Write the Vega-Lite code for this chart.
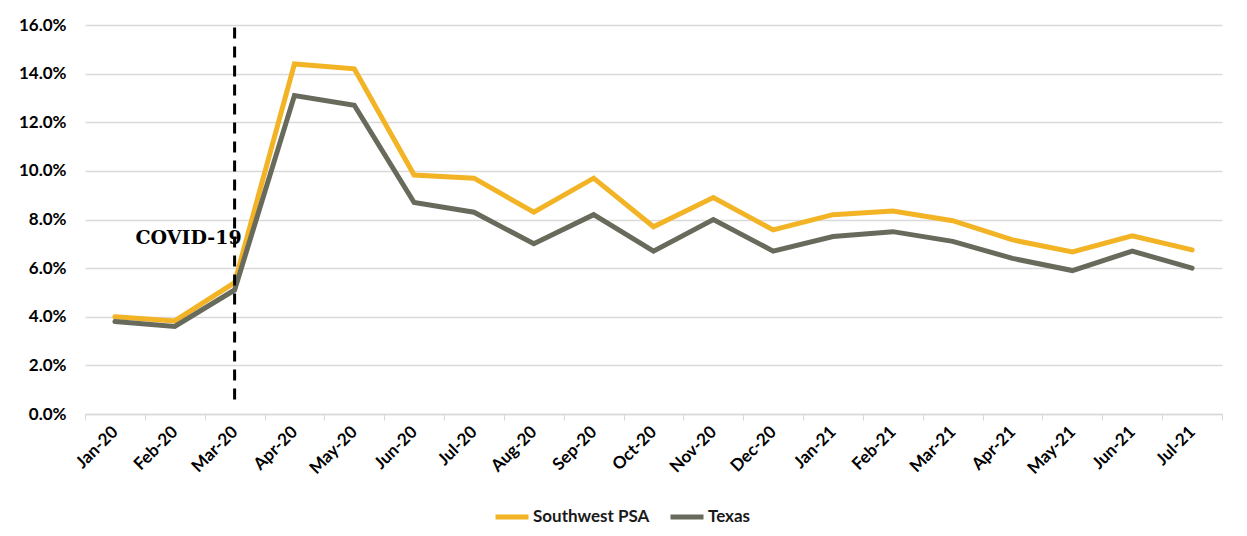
{
  "$schema": "https://vega.github.io/schema/vega-lite/v6.json",
  "width": 1137,
  "height": 389,
  "autosize": "none",
  "padding": {"left": 85, "top": 25, "right": 25, "bottom": 122},
  "background": "white",
  "config": {
    "view": {"stroke": null},
    "font": "Lato"
  },
  "datasets": {
    "series": [
      {"month": "Jan-20", "region": "Southwest PSA", "rate": 0.040},
      {"month": "Feb-20", "region": "Southwest PSA", "rate": 0.0383},
      {"month": "Mar-20", "region": "Southwest PSA", "rate": 0.054},
      {"month": "Apr-20", "region": "Southwest PSA", "rate": 0.144},
      {"month": "May-20", "region": "Southwest PSA", "rate": 0.142},
      {"month": "Jun-20", "region": "Southwest PSA", "rate": 0.0983},
      {"month": "Jul-20", "region": "Southwest PSA", "rate": 0.097},
      {"month": "Aug-20", "region": "Southwest PSA", "rate": 0.083},
      {"month": "Sep-20", "region": "Southwest PSA", "rate": 0.097},
      {"month": "Oct-20", "region": "Southwest PSA", "rate": 0.077},
      {"month": "Nov-20", "region": "Southwest PSA", "rate": 0.089},
      {"month": "Dec-20", "region": "Southwest PSA", "rate": 0.0757},
      {"month": "Jan-21", "region": "Southwest PSA", "rate": 0.082},
      {"month": "Feb-21", "region": "Southwest PSA", "rate": 0.0835},
      {"month": "Mar-21", "region": "Southwest PSA", "rate": 0.0795},
      {"month": "Apr-21", "region": "Southwest PSA", "rate": 0.0716},
      {"month": "May-21", "region": "Southwest PSA", "rate": 0.0667},
      {"month": "Jun-21", "region": "Southwest PSA", "rate": 0.0733},
      {"month": "Jul-21", "region": "Southwest PSA", "rate": 0.0675},
      {"month": "Jan-20", "region": "Texas", "rate": 0.038},
      {"month": "Feb-20", "region": "Texas", "rate": 0.036},
      {"month": "Mar-20", "region": "Texas", "rate": 0.051},
      {"month": "Apr-20", "region": "Texas", "rate": 0.131},
      {"month": "May-20", "region": "Texas", "rate": 0.127},
      {"month": "Jun-20", "region": "Texas", "rate": 0.087},
      {"month": "Jul-20", "region": "Texas", "rate": 0.083},
      {"month": "Aug-20", "region": "Texas", "rate": 0.070},
      {"month": "Sep-20", "region": "Texas", "rate": 0.082},
      {"month": "Oct-20", "region": "Texas", "rate": 0.067},
      {"month": "Nov-20", "region": "Texas", "rate": 0.080},
      {"month": "Dec-20", "region": "Texas", "rate": 0.067},
      {"month": "Jan-21", "region": "Texas", "rate": 0.073},
      {"month": "Feb-21", "region": "Texas", "rate": 0.075},
      {"month": "Mar-21", "region": "Texas", "rate": 0.071},
      {"month": "Apr-21", "region": "Texas", "rate": 0.064},
      {"month": "May-21", "region": "Texas", "rate": 0.059},
      {"month": "Jun-21", "region": "Texas", "rate": 0.067},
      {"month": "Jul-21", "region": "Texas", "rate": 0.060}
    ],
    "covid": [
      {"month": "Mar-20", "y0": 0.006, "y1": 0.162, "ty": 0.0725, "label": "COVID-19"}
    ]
  },
  "layer": [
    {
      "data": {"name": "series"},
      "mark": {"type": "line", "strokeWidth": 5, "strokeJoin": "miter", "strokeCap": "round"},
      "encoding": {
        "x": {
          "field": "month",
          "type": "nominal",
          "sort": null,
          "scale": {"type": "band", "paddingInner": 0, "paddingOuter": 0},
          "axis": {
            "title": null,
            "labelAngle": -45,
            "labelAlign": "right",
            "labelBaseline": "middle",
            "labelFont": "Lato",
            "labelFontWeight": "bold",
            "labelFontSize": 17,
            "labelColor": "#000000",
            "labelPadding": 9,
            "tickBand": "extent",
            "tickColor": "#d9d9d9",
            "tickSize": 6,
            "domainColor": "#d9d9d9",
            "domainWidth": 1.5,
            "grid": false
          }
        },
        "y": {
          "field": "rate",
          "type": "quantitative",
          "scale": {"domain": [0, 0.16], "nice": false},
          "axis": {
            "title": null,
            "format": ".1%",
            "values": [0, 0.02, 0.04, 0.06, 0.08, 0.1, 0.12, 0.14, 0.16],
            "labelFont": "Lato",
            "labelFontWeight": "bold",
            "labelFontSize": 17,
            "labelColor": "#000000",
            "labelPadding": 19,
            "ticks": false,
            "domain": false,
            "gridColor": "#d9d9d9",
            "gridWidth": 1.5
          }
        },
        "color": {
          "field": "region",
          "type": "nominal",
          "sort": ["Southwest PSA", "Texas"],
          "scale": {"domain": ["Southwest PSA", "Texas"], "range": ["#F2B325", "#686A5C"]},
          "legend": {
            "title": null,
            "orient": "none",
            "legendX": 408,
            "legendY": 473,
            "direction": "horizontal",
            "symbolType": "stroke",
            "symbolStrokeWidth": 5,
            "symbolSize": 1089,
            "labelFont": "Lato",
            "labelFontSize": 17,
            "labelFontWeight": "bold",
            "labelColor": "#1a1a1a",
            "columnPadding": 10,
            "labelOffset": 2
          }
        }
      }
    },
    {
      "data": {"name": "covid"},
      "mark": {"type": "rule", "strokeWidth": 3, "strokeDash": [11, 8], "color": "#000000"},
      "encoding": {
        "x": {"field": "month", "type": "nominal", "sort": null},
        "y": {"field": "y0", "type": "quantitative"},
        "y2": {"field": "y1"}
      }
    },
    {
      "data": {"name": "covid"},
      "mark": {"type": "text", "font": "DejaVu Serif", "fontWeight": "bold", "fontSize": 19, "align": "right", "baseline": "middle", "dx": 7, "color": "#000000"},
      "encoding": {
        "x": {"field": "month", "type": "nominal", "sort": null},
        "y": {"field": "ty", "type": "quantitative"},
        "text": {"field": "label"}
      }
    }
  ]
}
